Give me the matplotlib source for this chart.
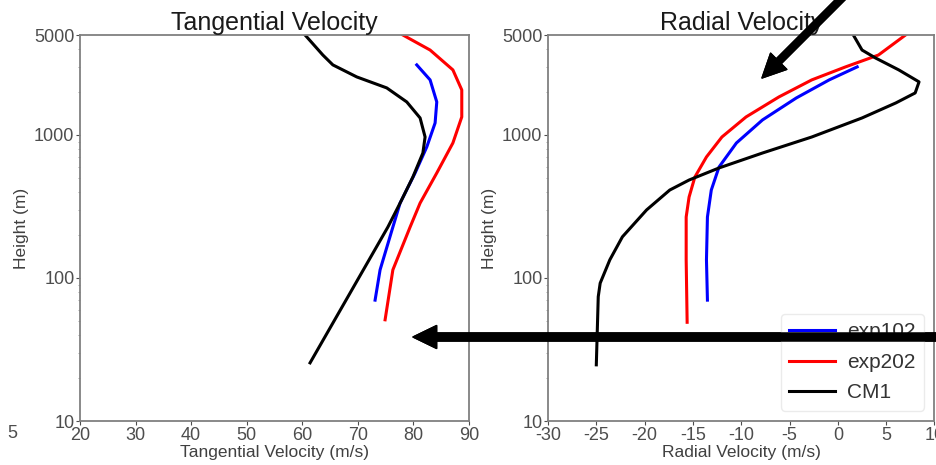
import numpy as np
import matplotlib.pyplot as plt

plt.rcParams['font.family'] = ['Liberation Sans', 'DejaVu Sans']
plt.rcParams['axes.unicode_minus'] = False

# tangential velocity profiles (m/s, height m)
tan_exp102_v = [73.1, 74.0, 76.3, 77.6, 80.3, 82.4, 83.9, 84.2, 83.0, 80.6]
tan_exp102_z = [70, 114, 227, 334, 542, 824, 1213, 1702, 2427, 3090]
tan_exp202_v = [74.9, 76.3, 79.4, 81.2, 84.2, 87.1, 88.7, 88.7, 87.1, 83.0, 78.1]
tan_exp202_z = [51, 114, 227, 334, 542, 879, 1337, 2065, 2851, 3925, 5000]
tan_cm1_v = [61.4, 75.4, 77.6, 79.9, 81.7, 82.1, 81.2, 78.8, 75.2, 69.8, 65.5, 63.7, 60.5]
tan_cm1_z = [25.5, 227, 334, 508, 748, 968, 1315, 1702, 2133, 2546, 3090, 3622, 5000]

# radial velocity profiles
rad_exp102_v = [-13.5, -13.6, -13.5, -13.1, -12.3, -10.5, -7.8, -4.3, -0.9, 2.0]
rad_exp102_z = [70, 134, 267, 412, 597, 879, 1274, 1815, 2427, 2993]
rad_exp202_v = [-15.6, -15.7, -15.7, -15.4, -14.8, -13.6, -12.0, -9.5, -6.1, -2.7, 0.8, 4.2, 7.0]
rad_exp202_z = [49, 134, 267, 368, 508, 702, 968, 1337, 1845, 2427, 2993, 3622, 5000]
rad_cm1_v = [-25.0, -24.8, -24.6, -23.6, -22.3, -19.8, -17.4, -15.4, -12.3, -7.8, -2.7,
             2.5, 6.0, 8.0, 8.4, 6.3, 3.9, 2.5, 1.6]
rad_cm1_z = [24.7, 74, 92, 134, 194, 299, 412, 484, 588, 748, 968,
             1315, 1675, 1967, 2350, 2851, 3452, 3925, 5000]

yticks = [10, 100, 1000, 5000]

fig = plt.figure(figsize=(9.37, 4.65), dpi=100)
ax1 = fig.add_axes([80/937, 1-421/465, 389/937, 386/465])
ax2 = fig.add_axes([548/937, 1-421/465, 386.5/937, 386/465])

lw = 2.2
ax1.plot(tan_exp102_v, tan_exp102_z, color='blue', lw=lw, label='exp102')
ax1.plot(tan_exp202_v, tan_exp202_z, color='red', lw=lw, label='exp202')
ax1.plot(tan_cm1_v, tan_cm1_z, color='black', lw=lw, label='CM1')
ax2.plot(rad_exp102_v, rad_exp102_z, color='blue', lw=lw, label='exp102')
ax2.plot(rad_exp202_v, rad_exp202_z, color='red', lw=lw, label='exp202')
ax2.plot(rad_cm1_v, rad_cm1_z, color='black', lw=lw, label='CM1')

for ax, title, xl in [(ax1, 'Tangential Velocity', 'Tangential Velocity (m/s)'),
                      (ax2, 'Radial Velocity', 'Radial Velocity (m/s)')]:
    ax.set_yscale('log')
    ax.set_ylim(10, 5000)
    ax.set_yticks(yticks)
    ax.set_yticklabels([str(t) for t in yticks])
    ax.set_title(title, fontsize=18, pad=3, color='0.1')
    ax.set_xlabel(xl, fontsize=12.5, color='0.25', labelpad=1)
    ax.set_ylabel('Height (m)', fontsize=12.5, color='0.25', labelpad=4)
    ax.tick_params(labelsize=13, colors='0.3', length=3, pad=1)
    ax.tick_params(which='minor', length=1.5, colors='0.6')
    for s in ax.spines.values():
        s.set_color('0.5')
        s.set_linewidth(1.3)

ax1.set_xlim(20, 90)
ax1.set_xticks(np.arange(20, 91, 10))
ax2.set_xlim(-30, 10)
ax2.set_xticks(np.arange(-30, 11, 5))

leg = ax2.legend(loc='lower right', fontsize=15, handlelength=2.2, handletextpad=0.6,
                 borderaxespad=0.5, labelspacing=0.55)
leg.get_frame().set_edgecolor('0.9')
for t in leg.get_texts():
    t.set_color('0.2')

fig.text(12/937, 1-433/465, '5', fontsize=13, color='0.3', ha='center', va='center')

# arrows
fig.add_artist(plt.annotate('', xy=(413, 128), xycoords='figure pixels',
                            xytext=(945, 128), textcoords='figure pixels',
                            arrowprops=dict(facecolor='black', edgecolor='black',
                                            width=5.8, headwidth=16.5, headlength=17)))
fig.add_artist(plt.annotate('', xy=(762, 387), xycoords='figure pixels',
                            xytext=(848, 473), textcoords='figure pixels',
                            arrowprops=dict(facecolor='black', edgecolor='black',
                                            width=5.0, headwidth=16.5, headlength=17)))

fig.savefig('out.png', dpi=100)
